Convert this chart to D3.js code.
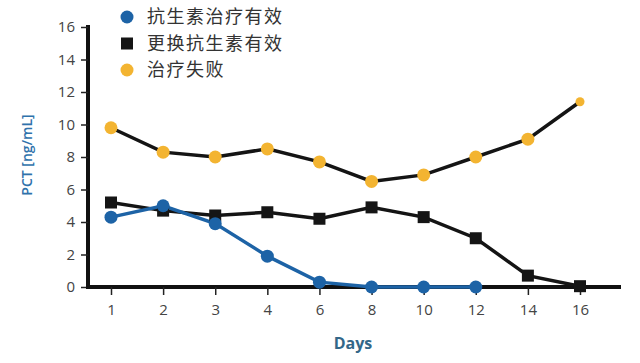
<!DOCTYPE html>
<html>
<head>
<meta charset="utf-8">
<script src="https://cdn.jsdelivr.net/npm/d3@7"></script>
<style>
  body { margin: 0; background: #fff; }
  svg { display: block; }
</style>
</head>
<body>
<svg id="chart" width="640" height="363"></svg>
<script>
// categories (days) and y ticks
const days = ["1", "2", "3", "4", "6", "8", "10", "12", "14", "16"]
const yTicks = [0, 2, 4, 6, 8, 10, 12, 14, 16]

// series values
const effectiveVals = [4.3, 5.0, 3.9, 1.9, 0.3, 0.0, 0.0, 0.0]          // 抗生素治疗有效
const switchedVals = [5.2, 4.7, 4.4, 4.6, 4.2, 4.9, 4.3, 3.0, 0.7, 0.05] // 更换抗生素有效
const failedVals = [9.8, 8.3, 8.0, 8.5, 7.7, 6.5, 6.9, 8.0, 9.1, 11.4]   // 治疗失败

const legendNames = ["抗生素治疗有效", "更换抗生素有效", "治疗失败"]

const blue = "#1d63a6"
const orange = "#f3b431"

const svg = d3.select("#chart")

const x = d3.scalePoint().domain(days).range([111, 580])
const y = d3.scaleLinear().domain([0, 16]).range([287, 27])

// y axis
const yAxis = svg.append("g")
    .attr("transform", "translate(88,0)")
    .call(d3.axisLeft(y).tickValues(yTicks).tickSize(7).tickPadding(6))
yAxis.select(".domain").attr("stroke", "#111").attr("stroke-width", 4)
    .attr("d", "M0,25V289")
yAxis.selectAll(".tick line").attr("stroke", "#222").attr("stroke-width", 1.5)
yAxis.selectAll(".tick text")
    .attr("font-family", "'Open Sans', sans-serif").attr("font-size", 15).attr("fill", "#444")

// x axis
const xAxis = svg.append("g")
    .attr("transform", "translate(0,287)")
    .call(d3.axisBottom(x).tickSize(8).tickPadding(9))
xAxis.select(".domain").attr("stroke", "#111").attr("stroke-width", 4)
    .attr("d", "M86,0H621")
xAxis.selectAll(".tick line").attr("stroke", "#222").attr("stroke-width", 1.5)
xAxis.selectAll(".tick text")
    .attr("font-family", "'Open Sans', sans-serif").attr("font-size", 15).attr("fill", "#444")

// axis titles
svg.append("text")
    .attr("transform", "translate(32,155) rotate(-90)")
    .attr("text-anchor", "middle")
    .attr("font-family", "'Open Sans', sans-serif").attr("font-size", 14).attr("font-weight", 600)
    .attr("fill", "#2f72ab")
    .text("PCT [ng/mL]")

svg.append("text")
    .attr("x", 353).attr("y", 349)
    .attr("text-anchor", "middle")
    .attr("font-family", "'Open Sans', sans-serif").attr("font-size", 16).attr("font-weight", 700)
    .attr("fill", "#336788")
    .text("Days")

const line = d3.line()
    .x((d, i) => x(days[i]))
    .y(d => y(d))

// failed series: black line, orange dots
svg.append("path").datum(failedVals)
    .attr("d", line).attr("fill", "none").attr("stroke", "#141414").attr("stroke-width", 3.5)

// switched series: black line, black squares
svg.append("path").datum(switchedVals)
    .attr("d", line).attr("fill", "none").attr("stroke", "#141414").attr("stroke-width", 3.5)

// effective series: blue line
svg.append("path").datum(effectiveVals)
    .attr("d", line).attr("fill", "none").attr("stroke", blue).attr("stroke-width", 3.5)

svg.selectAll(".fdot").data(failedVals).enter().append("circle")
    .attr("cx", (d, i) => x(days[i])).attr("cy", d => y(d))
    .attr("r", (d, i) => i === failedVals.length - 1 ? 4.5 : 6.5)
    .attr("fill", orange)

svg.selectAll(".sq").data(switchedVals).enter().append("rect")
    .attr("x", (d, i) => x(days[i]) - 6).attr("y", d => y(d) - 6)
    .attr("width", 12).attr("height", 12)
    .attr("fill", "#151515")

svg.selectAll(".bdot").data(effectiveVals).enter().append("circle")
    .attr("cx", (d, i) => x(days[i])).attr("cy", d => y(d))
    .attr("r", 6.5)
    .attr("fill", blue)

// legend
const legend = svg.append("g")
const legendY = [17, 43.5, 70]
legend.append("circle").attr("cx", 127).attr("cy", legendY[0]).attr("r", 6.5).attr("fill", blue)
legend.append("rect").attr("x", 121).attr("y", legendY[1] - 6).attr("width", 12).attr("height", 12).attr("fill", "#151515")
legend.append("circle").attr("cx", 127).attr("cy", legendY[2]).attr("r", 6.5).attr("fill", orange)
legend.selectAll("text").data(legendNames).enter().append("text")
    .attr("x", 147).attr("y", (d, i) => legendY[i])
    .attr("dy", "0.36em")
    .attr("font-family", "'Noto Sans CJK SC', sans-serif").attr("font-size", 18)
    .attr("letter-spacing", 1.5)
    .attr("fill", "#333")
    .text(d => d)
</script>
</body>
</html>
